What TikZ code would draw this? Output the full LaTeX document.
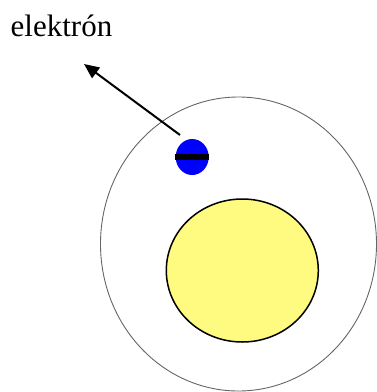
\documentclass[tikz,border=0pt]{standalone}
\usepackage{fontspec}
\setmainfont{Liberation Serif}
\usetikzlibrary{shapes.geometric,arrows.meta}
\begin{document}
\begin{tikzpicture}[x=1pt,y=-1pt,
  shell/.style={draw=black!60,line width=0.9pt,ellipse,inner sep=0pt},
  nucleus/.style={draw=black,line width=1.5pt,fill={rgb,255:red,255;green,250;blue,128},ellipse,inner sep=0pt},
  electron/.style={fill={rgb,255:red,0;green,0;blue,255},ellipse,inner sep=0pt},
  arr/.style={line width=2pt,-{Triangle[length=15pt,width=13pt]}}]
\useasboundingbox (0,0) rectangle (377,392);
\node[shell,minimum width=276pt,minimum height=294pt] (orbit) at (238.5,244) {};
\node[nucleus,minimum width=152pt,minimum height=143pt] (nuc) at (242.3,270.5) {};
\node[electron,minimum width=33pt,minimum height=36pt] (el) at (192.2,157) {};
\fill[black] ([xshift=-0.5pt,yshift=-3pt]el.west) rectangle ([xshift=0.5pt,yshift=3.2pt]el.east);
\node[anchor=base,font=\fontsize{31}{36}\selectfont,inner sep=0pt] (lbl) at (61.5,36) {elektrón};
\coordinate (start) at (180,135);
\coordinate (tip) at (84,64);
\draw[arr] (start) -- (tip);
\end{tikzpicture}
\end{document}
